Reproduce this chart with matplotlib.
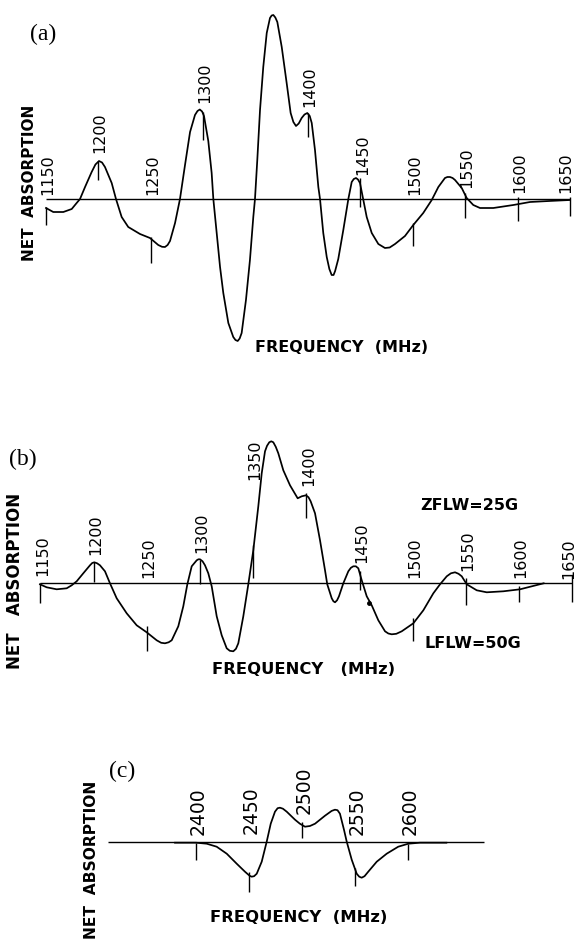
import matplotlib
matplotlib.use("Agg")
import matplotlib.pyplot as plt
from matplotlib.transforms import ScaledTranslation

# ---------------- data (frequency in MHz, net absorption in arbitrary units) -------------
curve_a = [
    (1150.4, -9), (1157.3, -13), (1166.9, -13), (1174.9, -10), (1179.6, -4), (1182.8, 0),
    (1187.6, 12), (1193.9, 27), (1197.5, 34.5), (1200.9, 38), (1203.8, 36.5), (1206.6, 32),
    (1213.0, 16), (1217.1, 0), (1222.5, -18), (1228.8, -28), (1240.0, -35), (1249.5, -39),
    (1257.4, -46), (1261.0, -47.8), (1263.8, -48), (1266.3, -46), (1268.6, -42), (1273.4, -24),
    (1278.1, 0), (1282.9, 34), (1287.7, 67), (1292.4, 84), (1294.8, 88), (1297.0, 89.5),
    (1299.2, 87.5), (1301.0, 83), (1305.1, 58), (1308.3, 26), (1309.9, 0), (1313.1, -34),
    (1316.3, -68), (1319.4, -94), (1324.2, -124), (1328.9, -138), (1331.0, -141), (1333.1, -142),
    (1335.0, -139.5), (1336.9, -134), (1341.0, -101), (1344.8, -61), (1348.0, -18), (1349.6, 0),
    (1351.8, 39), (1354.4, 89), (1357.5, 132), (1360.8, 166), (1363.9, 181), (1365.5, 183.5),
    (1367.1, 184), (1369.0, 181.5), (1370.9, 177), (1375.1, 152), (1379.8, 116), (1383.6, 86),
    (1386.2, 77), (1388.7, 73), (1391.3, 75.5), (1394.1, 81), (1396.8, 84.5), (1399.5, 86),
    (1401.8, 83), (1403.7, 76), (1406.8, 49), (1410.0, 12), (1411.6, 0), (1414.7, -34),
    (1418.0, -58), (1420.5, -70), (1422.7, -76), (1424.5, -76), (1426.0, -72), (1429.0, -60),
    (1433.8, -31), (1438.6, 0), (1441.8, 17), (1443.8, 20), (1445.9, 21), (1447.8, 19.5),
    (1449.7, 16), (1452.9, -1), (1456.1, -18), (1460.9, -34), (1467.2, -45), (1473.5, -49),
    (1478.0, -48.5), (1483.1, -45), (1492.6, -37), (1500.5, -26), (1510.0, -14), (1518.1, -1),
    (1524.4, 12), (1530.7, 21), (1533.0, 22), (1535.5, 22), (1538.0, 21), (1540.3, 19),
    (1546.7, 11), (1551.4, 1), (1557.7, -6), (1564.1, -9), (1576.8, -9), (1595.9, -6),
    (1611.8, -3), (1630.0, -2), (1650.0, -1)]

curve_b = [
    (1149.6, -1), (1155.9, -4), (1165.3, -6), (1174.7, -5), (1179.4, -2), (1184.1, 2),
    (1190.3, 10), (1196.6, 18), (1198.7, 20.3), (1200.7, 21), (1203.3, 20), (1206.0, 18),
    (1210.7, 12), (1215.4, 0), (1221.7, -15), (1231.1, -30), (1240.5, -42), (1249.9, -49),
    (1259.3, -57), (1263.5, -59.5), (1267.1, -60), (1270.5, -59), (1273.4, -57), (1279.6, -43),
    (1284.3, -23), (1288.1, -1), (1292.2, 17), (1296.9, 23), (1298.5, 24), (1300.0, 24),
    (1302.4, 22), (1304.7, 18), (1307.8, 10), (1311.0, -3), (1315.7, -33), (1320.4, -52),
    (1325.1, -65), (1328.0, -67.5), (1331.3, -68), (1333.8, -65.5), (1336.0, -60), (1340.7, -33),
    (1345.4, -1), (1350.1, 33), (1354.8, 77), (1358.0, 110), (1361.1, 132), (1363.0, 137.5),
    (1365.1, 141), (1367.0, 142), (1368.9, 141), (1371.2, 136.5), (1373.6, 130), (1378.3, 113),
    (1384.6, 98), (1391.8, 85), (1395.6, 87), (1399.6, 88), (1402.0, 86), (1404.0, 82),
    (1408.1, 70), (1412.8, 43), (1417.5, 13), (1419.6, -1), (1423.8, -15), (1425.4, -18),
    (1426.9, -19), (1428.8, -17), (1430.6, -13), (1434.7, 0), (1439.4, 12), (1441.8, 15.5),
    (1444.1, 17), (1446.5, 17), (1448.8, 15), (1452.0, 3), (1456.7, -13), (1461.4, -22),
    (1467.6, -37), (1473.9, -48), (1477.0, -50.2), (1480.2, -51), (1484.5, -50.5), (1489.6, -48),
    (1500.5, -40), (1509.9, -27), (1519.3, -10), (1525.6, -1), (1531.9, 7), (1535.8, 10),
    (1539.7, 11), (1543.0, 9.5), (1546.0, 7), (1550.7, -1), (1560.1, -7), (1569.5, -9),
    (1585.1, -8), (1600.8, -6), (1623.0, 0)]

curve_c = [
    (2380.2, -1), (2400.0, -1), (2410.1, -2), (2419.5, -5), (2429.0, -12), (2438.4, -22),
    (2446.2, -30), (2450.5, -34), (2452.5, -35), (2454.8, -34.5), (2457.3, -32), (2462.0, -20),
    (2466.7, 0), (2470.5, 18), (2474.5, 30), (2477.0, 33.5), (2479.2, 34), (2482.0, 33),
    (2485.6, 30), (2493.4, 22), (2498.0, 18), (2502.8, 15), (2507.5, 15.7), (2512.3, 18),
    (2521.7, 26), (2528.0, 30.8), (2531.1, 32), (2533.5, 31.5), (2535.8, 28), (2539.6, 12),
    (2542.2, 0), (2546.9, -18), (2551.6, -32), (2554.0, -35), (2556.3, -36), (2559.0, -34.5),
    (2562.5, -30), (2570.5, -20), (2579.9, -12), (2590.8, -5), (2600.3, -2), (2611.3, -1),
    (2636.2, -1)]

freq_a, absorb_a = zip(*curve_a)
freq_b, absorb_b = zip(*curve_b)
freq_c, absorb_c = zip(*curve_c)

# frequency markers: position, marker-line top/bottom, label base
ticks_a = [1150, 1200, 1250, 1300, 1400, 1450, 1500, 1550, 1600, 1650]
tick_top_a = [-8, 38, -38, 87, 86, 21, -24, 6, 2, 2]
tick_bot_a = [-26, 19, -64, 59, 62, -8, -47, -19, -22, -17]
label_base_a = [4, 46, 4, 96, 92, 24, 4, 11, 6, 6]

ticks_b = [1150, 1200, 1250, 1300, 1350, 1400, 1450, 1500, 1550, 1600, 1650]
tick_top_b = [0, 21, -43, 23, 38, 90, 12, -35, 5, -3, 8]
tick_bot_b = [-20, 1, -68, -1, 5, 65, -7, -58, -22, -19, -19]
label_base_b = [7, 28, 5, 30, 103, 97, 20, 5, 12, 5, 4]

ticks_c = [2400, 2450, 2500, 2550, 2600]
tick_top_c = [-1, -30, 20, -26, -2]
tick_bot_c = [-18, -50, 4, -44, -18]
label_base_c = [7, 8, 28, 7, 7]

baseline_a = [1150, 1650]
baseline_b = [1150, 1650]
baseline_c = [2317, 2672]

dot_b = (1458.9, -20)

# ---------------- layout ----------------
W, H = 576, 949
fig = plt.figure(figsize=(W / 100, H / 100), dpi=100)
fig.patch.set_facecolor("white")


def make_axes(f0, px0, ppm, base_py):
    """Full-figure axes with frequency f0 at pixel px0, ppm px/MHz, zero at pixel row base_py."""
    ax = fig.add_axes([0, 0, 1, 1])
    ax.set_xlim(f0 - px0 / ppm, f0 + (W - px0) / ppm)
    ax.set_ylim(base_py - H, base_py)
    ax.axis("off")
    ax.patch.set_alpha(0)
    return ax


def draw_panel(ax, freq, absorb, base, ticks, tops, bots, lbase, fsize, ffam):
    ax.plot(base, [0, 0], color="black", lw=1.0, solid_capstyle="butt")
    ax.plot(freq, absorb, color="black", lw=1.25, solid_joinstyle="round")
    ax.vlines(ticks, bots, tops, color="black", lw=1.0)
    for t, b in zip(ticks, lbase):
        # keep the last label inside the figure edge
        shift = -4 if t == base[1] else 2
        off = ax.transData + ScaledTranslation(shift / 100, 0, fig.dpi_scale_trans)
        ax.text(t, b, str(t), rotation=90, ha="center", va="bottom",
                transform=off, fontsize=fsize, family=ffam, color="black")


def ftext(px, py, s, **kw):
    fig.text(px / W, 1 - py / H, s, color="black", **kw)


ax_a = make_axes(1150, 45.6, 1.049, 199.0)
draw_panel(ax_a, freq_a, absorb_a, baseline_a, ticks_a, tick_top_a, tick_bot_a,
           label_base_a, 11.5, "DejaVu Sans")

ax_b = make_axes(1150, 40.4, 1.064, 583.3)
draw_panel(ax_b, freq_b, absorb_b, baseline_b, ticks_b, tick_top_b, tick_bot_b,
           label_base_b, 11.5, "DejaVu Sans")
ax_b.plot([dot_b[0]], [dot_b[1]], "o", color="black", ms=2.5)

ax_c = make_axes(2400, 196.0, 1.06, 841.7)
draw_panel(ax_c, freq_c, absorb_c, baseline_c, ticks_c, tick_top_c, tick_bot_c,
           label_base_c, 13.5, "DejaVu Sans")

serif = "Liberation Serif"
ftext(43, 34, "(a)", fontsize=17, family=serif, ha="center", va="center")
ftext(23, 459, "(b)", fontsize=17, family=serif, ha="center", va="center")
ftext(122, 771.5, "(c)", fontsize=17, family=serif, ha="center", va="center")

ylab_kw = dict(rotation=90, family="DejaVu Sans", fontweight="bold", ha="center")
ftext(29.5, 183, "NET  ABSORPTION", fontsize=11, va="center", **ylab_kw)
ftext(14.7, 581, "NET   ABSORPTION", fontsize=12, va="center", **ylab_kw)
ftext(92, 781, "NET  ABSORPTION", fontsize=11.2, va="top", **ylab_kw)

xlab_kw = dict(family="DejaVu Sans", fontweight="bold", ha="center", va="center")
ftext(341.5, 347.5, "FREQUENCY  (MHz)", fontsize=11.5, **xlab_kw)
ftext(304, 670, "FREQUENCY   (MHz)", fontsize=11.8, **xlab_kw)
ftext(299, 917.5, "FREQUENCY  (MHz)", fontsize=11.8, **xlab_kw)

ftext(469, 505, "ZFLW=25G", fontsize=11.5, **xlab_kw)
ftext(473, 643, "LFLW=50G", fontsize=11.5, **xlab_kw)

fig.savefig("out.png", dpi=100, facecolor="white")
